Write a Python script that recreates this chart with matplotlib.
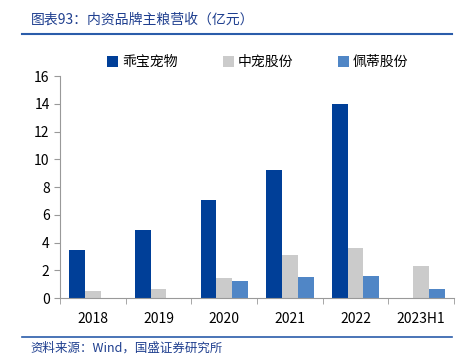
import numpy as np
import matplotlib.pyplot as plt
from matplotlib.lines import Line2D

plt.rcParams['font.family'] = ['Noto Sans CJK SC', 'DejaVu Sans']

years = ['2018', '2019', '2020', '2021', '2022', '2023H1']
names = ['乖宝宠物', '中宠股份', '佩蒂股份']
guaibao = [3.45, 4.9, 7.05, 9.2, 14.0, 0]
zhongchong = [0.5, 0.65, 1.45, 3.1, 3.6, 2.3]
peidi = [0, 0, 1.25, 1.5, 1.6, 0.65]
colors = ['#003f98', '#cbcbcb', '#5086c6']

fig = plt.figure(figsize=(4.73, 3.57), dpi=100)
ax = fig.add_axes([0.127, 0.165, 0.833, 0.622])

x = np.arange(len(years))
w = 0.24
for i, (vals, c, n) in enumerate(zip([guaibao, zhongchong, peidi], colors, names)):
    ax.bar(x + (i - 1) * w, vals, w, color=c, label=n)

ax.set_xlim(-0.5, len(years) - 0.5)
ax.set_ylim(0, 16)
ax.set_yticks(range(0, 17, 2))
ax.set_xticks(x)
ax.set_xticklabels(years)
ax.set_xticks(np.arange(-0.5, len(years), 1), minor=True)
ax.tick_params(axis='x', which='major', length=0, pad=10, labelsize=10)
ax.tick_params(axis='x', which='minor', length=4, color='#999999')
ax.tick_params(axis='y', length=4, color='#999999', labelsize=10)
for s in ['top', 'right']:
    ax.spines[s].set_visible(False)
for s in ['left', 'bottom']:
    ax.spines[s].set_color('#999999')

ax.legend(loc='center left', bbox_to_anchor=(0.12, 1.063), ncol=3, frameon=False,
          handlelength=0.8, handleheight=0.8, handletextpad=0.3, columnspacing=3.2,
          fontsize=10, borderaxespad=0, borderpad=0)

fig.text(0.065, 0.945, '图表93：内资品牌主粮营收（亿元）', color='#1f3f8f',
         fontsize=10, style='italic', va='center')
fig.add_artist(Line2D([0.047, 0.955], [0.905, 0.905], color='#2a5caa', lw=1.5))
fig.add_artist(Line2D([0.047, 0.955], [0.057, 0.057], color='#2a5caa', lw=1.2))
fig.text(0.065, 0.025, '资料来源：Wind，国盛证券研究所', color='#1f3f8f',
         fontsize=9, style='italic', va='center')

fig.savefig('out.png', dpi=100)
